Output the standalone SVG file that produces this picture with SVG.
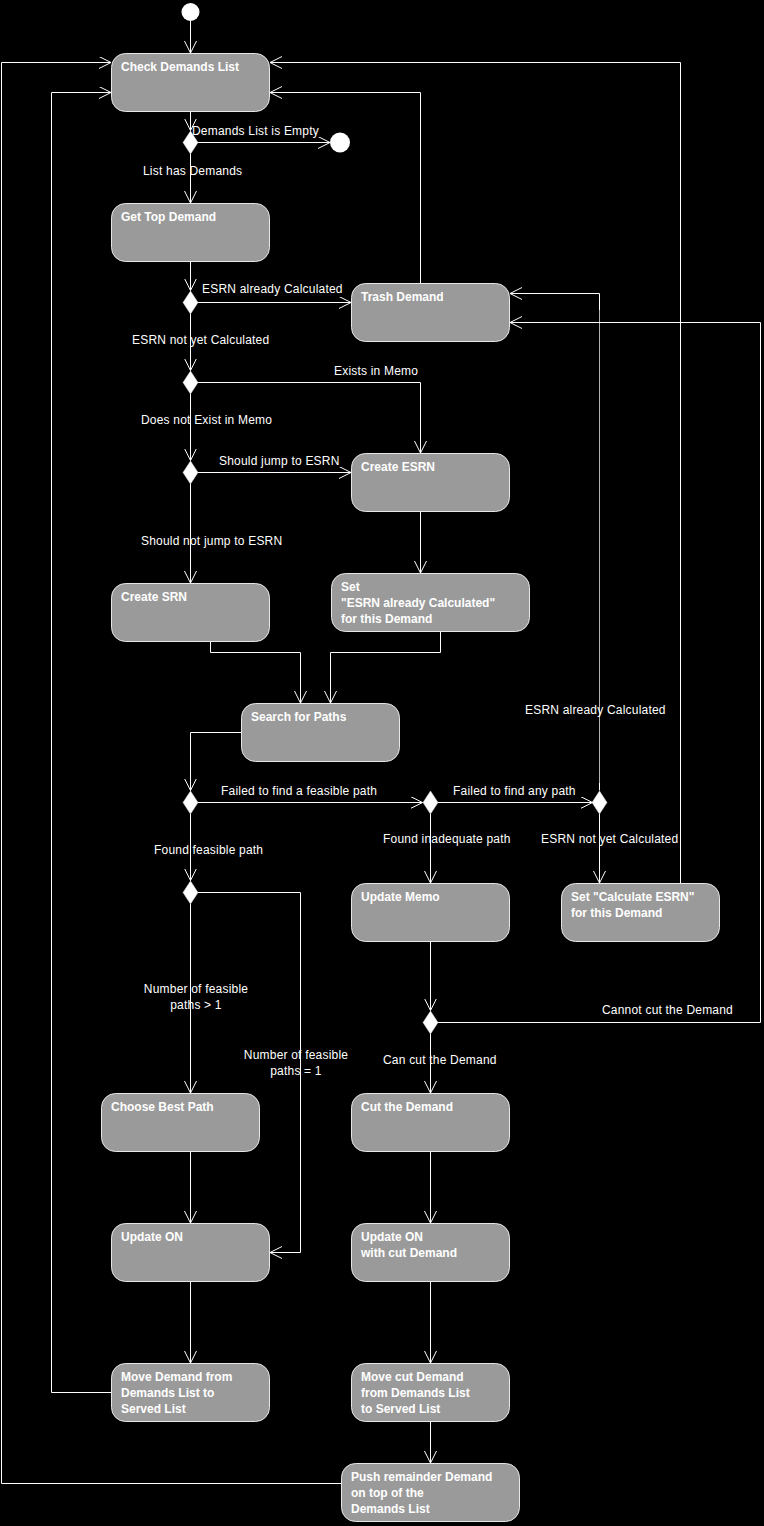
<svg xmlns="http://www.w3.org/2000/svg" width="764" height="1526" viewBox="0 0 764 1526">
<style>
.bg{fill:#000}
.node rect{fill:#9a9a9a;stroke:#e6e6e6;stroke-width:1}
.nt{font-family:"Liberation Sans",Arial,sans-serif;font-size:12px;font-weight:bold;fill:#fff}
.lbl{font-family:"Liberation Sans",Arial,sans-serif;font-size:12px;fill:#fff;letter-spacing:0.2px}
.c{fill:none;stroke:#fff;stroke-width:1}
.dm{fill:#fff;stroke:#ddd;stroke-width:0.5}
.term{fill:#fff}
</style>
<defs>
<marker id="arr" markerWidth="14" markerHeight="14" refX="12" refY="6" orient="auto" markerUnits="userSpaceOnUse" viewBox="0 0 14 14">
<path d="M0,0 L12,6 L0,12" fill="none" stroke="#fff" stroke-width="1"/>
</marker>
</defs>
<rect class="bg" x="0" y="0" width="764" height="1526"/>

<g id="connectors">
<path class="c" d="M190.5,21 V53" marker-end="url(#arr)"/>
<path class="c" d="M190.5,111 V130.5" marker-end="url(#arr)"/>
<path class="c" d="M198,142.5 H330" marker-end="url(#arr)"/>
<path class="c" d="M190.5,154 V203" marker-end="url(#arr)"/>
<path class="c" d="M190.5,261 V290.5" marker-end="url(#arr)"/>
<path class="c" d="M198,302.5 H351" marker-end="url(#arr)"/>
<path class="c" d="M190.5,314 V370.5" marker-end="url(#arr)"/>
<path class="c" d="M198,382.5 H420.5 V453" marker-end="url(#arr)"/>
<path class="c" d="M190.5,394 V460.5" marker-end="url(#arr)"/>
<path class="c" d="M198,472.5 H351" marker-end="url(#arr)"/>
<path class="c" d="M190.5,484 V583" marker-end="url(#arr)"/>
<path class="c" d="M420.5,511 V573" marker-end="url(#arr)"/>
<path class="c" d="M210.5,641 V652.5 H300.5 V703" marker-end="url(#arr)"/>
<path class="c" d="M440.5,631 V652.5 H330.5 V703" marker-end="url(#arr)"/>
<path class="c" d="M241,732.5 H190.5 V790.5" marker-end="url(#arr)"/>
<path class="c" d="M198,802.5 H422.5" marker-end="url(#arr)"/>
<path class="c" d="M438,802.5 H592.5" marker-end="url(#arr)"/>
<path class="c" d="M599.5,790.5 V783"/>
<path d="M599.5,783 V310" fill="none" stroke="#b0b0b0" stroke-width="1"/>
<path class="c" d="M599.5,310 V293.5 H510" marker-end="url(#arr)"/>
<path class="c" d="M599.5,814 V883" marker-end="url(#arr)"/>
<path class="c" d="M680.5,883 V62.5 H270" marker-end="url(#arr)"/>
<path class="c" d="M420.5,283 V92.5 H270" marker-end="url(#arr)"/>
<path class="c" d="M430.5,814 V883" marker-end="url(#arr)"/>
<path class="c" d="M190.5,814 V880.5" marker-end="url(#arr)"/>
<path class="c" d="M198,892.5 H300.5 V1252.5 H270" marker-end="url(#arr)"/>
<path class="c" d="M190.5,904 V1093" marker-end="url(#arr)"/>
<path class="c" d="M190.5,1151 V1223" marker-end="url(#arr)"/>
<path class="c" d="M190.5,1281 V1363" marker-end="url(#arr)"/>
<path class="c" d="M111,1392.5 H51.5 V92.5 H111" marker-end="url(#arr)"/>
<path class="c" d="M341,1483.5 H1.5 V62.5 H111" marker-end="url(#arr)"/>
<path class="c" d="M430.5,941 V1010.5" marker-end="url(#arr)"/>
<path class="c" d="M438,1022.5 H760.5 V322.5 H510" marker-end="url(#arr)"/>
<path class="c" d="M430.5,1034 V1093" marker-end="url(#arr)"/>
<path class="c" d="M430.5,1151 V1223" marker-end="url(#arr)"/>
<path class="c" d="M430.5,1281 V1363" marker-end="url(#arr)"/>
<path class="c" d="M430.5,1421 V1463" marker-end="url(#arr)"/>

<text class="lbl" x="192" y="135">Demands List is Empty</text>
<text class="lbl" x="143" y="175">List has Demands</text>
<text class="lbl" x="202" y="293">ESRN already Calculated</text>
<text class="lbl" x="132" y="344">ESRN not yet Calculated</text>
<text class="lbl" x="334" y="375">Exists in Memo</text>
<text class="lbl" x="141" y="424">Does not Exist in Memo</text>
<text class="lbl" x="219" y="465">Should jump to ESRN</text>
<text class="lbl" x="141" y="545">Should not jump to ESRN</text>
<text class="lbl" x="525" y="714">ESRN already Calculated</text>
<text class="lbl" x="221" y="795">Failed to find a feasible path</text>
<text class="lbl" x="453" y="795">Failed to find any path</text>
<text class="lbl" x="383" y="843">Found inadequate path</text>
<text class="lbl" x="541" y="843">ESRN not yet Calculated</text>
<text class="lbl" x="154" y="854">Found feasible path</text>
<text class="lbl" x="196" y="993" text-anchor="middle">Number of feasible</text>
<text class="lbl" x="196" y="1009" text-anchor="middle">paths &gt; 1</text>
<text class="lbl" x="296" y="1059" text-anchor="middle">Number of feasible</text>
<text class="lbl" x="296" y="1075" text-anchor="middle">paths = 1</text>
<text class="lbl" x="602" y="1014">Cannot cut the Demand</text>
<text class="lbl" x="383" y="1064">Can cut the Demand</text>
</g>

<g id="start"><circle class="term" cx="190.5" cy="12" r="9"/></g>
<g id="end"><circle class="term" cx="340" cy="142.5" r="10"/></g>

<g id="d1"><polygon class="dm" points="190.5,131 198,142.5 190.5,154 183,142.5"/></g>
<g id="d2"><polygon class="dm" points="190.5,291 198,302.5 190.5,314 183,302.5"/></g>
<g id="d3"><polygon class="dm" points="190.5,371 198,382.5 190.5,394 183,382.5"/></g>
<g id="d4"><polygon class="dm" points="190.5,461 198,472.5 190.5,484 183,472.5"/></g>
<g id="d5"><polygon class="dm" points="190.5,791 198,802.5 190.5,814 183,802.5"/></g>
<g id="d6"><polygon class="dm" points="430.5,791 438,802.5 430.5,814 423,802.5"/></g>
<g id="d7"><polygon class="dm" points="599.5,791 607,802.5 599.5,814 592,802.5"/></g>
<g id="d8"><polygon class="dm" points="190.5,881 198,892.5 190.5,904 183,892.5"/></g>
<g id="d9"><polygon class="dm" points="430.5,1011 438,1022.5 430.5,1034 423,1022.5"/></g>

<g id="check" class="node"><rect x="111.5" y="53.5" width="158" height="58" rx="14"/><text class="nt" x="121" y="71">Check Demands List</text></g>
<g id="gettop" class="node"><rect x="111.5" y="203.5" width="158" height="58" rx="14"/><text class="nt" x="121" y="221">Get Top Demand</text></g>
<g id="trash" class="node"><rect x="351.5" y="283.5" width="158" height="58" rx="14"/><text class="nt" x="361" y="301">Trash Demand</text></g>
<g id="createesrn" class="node"><rect x="351.5" y="453.5" width="158" height="58" rx="14"/><text class="nt" x="361" y="471">Create ESRN</text></g>
<g id="createsrn" class="node"><rect x="111.5" y="583.5" width="158" height="58" rx="14"/><text class="nt" x="121" y="601">Create SRN</text></g>
<g id="setesrn" class="node"><rect x="331.5" y="573.5" width="198" height="58" rx="14"/><text class="nt" x="341" y="591">Set<tspan x="341" dy="16">"ESRN already Calculated"</tspan><tspan x="341" dy="16">for this Demand</tspan></text></g>
<g id="search" class="node"><rect x="241.5" y="703.5" width="158" height="58" rx="14"/><text class="nt" x="251" y="721">Search for Paths</text></g>
<g id="updatememo" class="node"><rect x="351.5" y="883.5" width="158" height="58" rx="14"/><text class="nt" x="361" y="901">Update Memo</text></g>
<g id="setcalc" class="node"><rect x="561.5" y="883.5" width="158" height="58" rx="14"/><text class="nt" x="571" y="901">Set "Calculate ESRN"<tspan x="571" dy="16">for this Demand</tspan></text></g>
<g id="choosebest" class="node"><rect x="101.5" y="1093.5" width="158" height="58" rx="14"/><text class="nt" x="111" y="1111">Choose Best Path</text></g>
<g id="cut" class="node"><rect x="351.5" y="1093.5" width="158" height="58" rx="14"/><text class="nt" x="361" y="1111">Cut the Demand</text></g>
<g id="updateon" class="node"><rect x="111.5" y="1223.5" width="158" height="58" rx="14"/><text class="nt" x="121" y="1241">Update ON</text></g>
<g id="updateoncut" class="node"><rect x="351.5" y="1223.5" width="158" height="58" rx="14"/><text class="nt" x="361" y="1241">Update ON<tspan x="361" dy="16">with cut Demand</tspan></text></g>
<g id="move" class="node"><rect x="111.5" y="1363.5" width="158" height="58" rx="14"/><text class="nt" x="121" y="1381">Move Demand from<tspan x="121" dy="16">Demands List to</tspan><tspan x="121" dy="16">Served List</tspan></text></g>
<g id="movecut" class="node"><rect x="351.5" y="1363.5" width="158" height="58" rx="14"/><text class="nt" x="361" y="1381">Move cut Demand<tspan x="361" dy="16">from Demands List</tspan><tspan x="361" dy="16">to Served List</tspan></text></g>
<g id="push" class="node"><rect x="341.5" y="1463.5" width="178" height="58" rx="14"/><text class="nt" x="351" y="1481">Push remainder Demand<tspan x="351" dy="16">on top of the</tspan><tspan x="351" dy="16">Demands List</tspan></text></g>
</svg>
